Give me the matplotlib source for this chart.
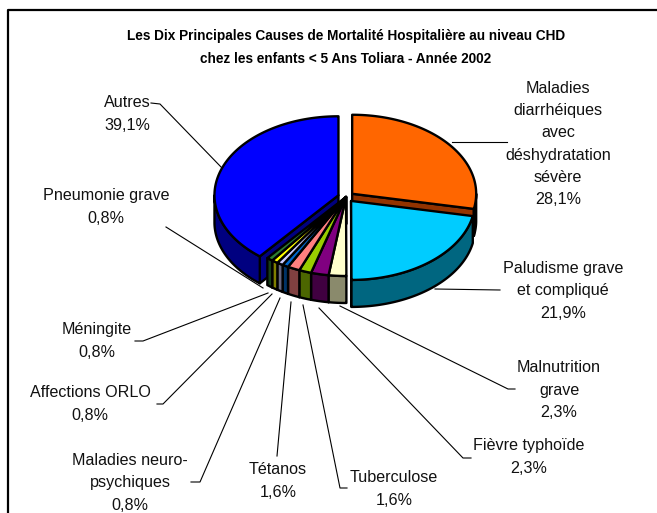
import numpy as np
import matplotlib
matplotlib.use("Agg")
import matplotlib.pyplot as plt
from matplotlib.patches import Polygon
from matplotlib.lines import Line2D

# ---- data -------------------------------------------------------------
causes = [
    "Maladies\ndiarrhéiques\navec\ndéshydratation\nsévère",
    "Paludisme grave\net compliqué",
    "Malnutrition\ngrave",
    "Fièvre typhoïde",
    "Tuberculose",
    "Tétanos",
    "Maladies neuro-\npsychiques",
    "Affections ORLO",
    "Méningite",
    "Pneumonie grave",
    "Autres",
]
percent = [28.1, 21.9, 2.3, 2.3, 1.6, 1.6, 0.8, 0.8, 0.8, 0.8, 39.1]
top_colors = ["#FF6600", "#00CCFF", "#FFFFCC", "#800080", "#99CC00", "#FF8080",
              "#0066CC", "#CCCCFF", "#FFFF00", "#2E7D32", "#0000FF"]
side_colors = ["#933300", "#006680", "#8A8A6C", "#400040", "#4C6600", "#804040",
               "#003366", "#66667F", "#808000", "#173F19", "#000080"]
exploded = [True, True, False, False, False, False, False, False, False, False, True]

title = ("Les Dix Principales Causes de Mortalité Hospitalière au niveau CHD\n"
         "chez les enfants < 5 Ans Toliara - Année 2002")

# ---- layout (pixel space) ---------------------------------------------
W, H = 657, 513
cx, cy = 346.0, 197.0       # centre of the top face
a, b = 124.0, 79.0          # ellipse semi-axes
depth = 27.0                # thickness of the disc
explode_px = 8.0

label_pos = [(558, 144), (563, 291), (559, 390), (529, 457), (394, 489),
             (278, 481), (130, 483), (90, 404), (97, 341), (106, 207), (127, 114)]
leaders = [
    [(452, 142), (507, 142)],
    [(435, 289), (500, 290)],
    [(340, 306), (508, 389), (515, 389)],
    [(319, 308), (463, 458), (471, 458)],
    [(303, 305), (340, 488), (347, 488)],
    [(291, 302), (277, 456)],
    [(280, 298), (200, 482), (191, 482)],
    [(272, 294), (163, 404), (157, 404)],
    [(268, 293), (143, 341), (135, 341)],
    [(263, 288), (166, 227)],
    [(222, 168), (160, 104), (151, 103)],
]

fig = plt.figure(figsize=(W / 100, H / 100), dpi=100)
ax = fig.add_axes([0, 0, 1, 1])
ax.set_xlim(0, W)
ax.set_ylim(H, 0)
ax.axis("off")

# chart frame
ax.add_line(Line2D([8, 8, W + 2], [H + 2, 10, 10], color="black", lw=1.6))

ax.text(346, 47.5, title, ha="center", va="center", fontsize=9.8,
        fontweight="bold", family=["Liberation Sans", "DejaVu Sans"],
        linespacing=1.78)

total = sum(percent)
spans = [360.0 * p / total for p in percent]
starts = 90.0 - np.concatenate([[0], np.cumsum(spans)[:-1]])
ends = starts - np.array(spans)


def offset(i):
    if not exploded[i]:
        return 0.0, 0.0
    m = np.radians((starts[i] + ends[i]) / 2)
    return explode_px * np.cos(m), -explode_px * (b / a) * np.sin(m)


def rim(th_deg, off, z=0.0):
    th = np.radians(th_deg)
    return cx + off[0] + a * np.cos(th), cy + off[1] - b * np.sin(th) + z


def arc(t0, t1, off, z=0.0, n=None):
    n = n or max(4, int(abs(t1 - t0) * 1.5))
    ts = np.linspace(t0, t1, n)
    return [rim(t, off, z) for t in ts]


LW = 1.7
radial, outer, tops = [], [], []
for i in range(len(percent)):
    off = offset(i)
    s, e = starts[i], ends[i]
    c0 = (cx + off[0], cy + off[1])
    c1 = (cx + off[0], cy + off[1] + depth)
    # radial walls facing the viewer
    for th, nrm in ((s, s + 90), (e, e - 90)):
        if np.sin(np.radians(nrm)) < -1e-6:
            quad = [c0, rim(th, off), rim(th, off, depth), c1]
            key = np.sin(np.radians(th))
            radial.append((key, quad, side_colors[i]))
    # curved outer wall on the front half
    lo, hi = max(e, -180.0), min(s, 0.0)
    if hi > lo:
        pts = arc(hi, lo, off) + arc(lo, hi, off, depth)
        outer.append((pts, side_colors[i]))
    tops.append(([c0] + arc(s, e, off), top_colors[i]))

for key, quad, col in sorted(radial, key=lambda r: -r[0]):
    ax.add_patch(Polygon(quad, closed=True, fc=col, ec="black", lw=LW,
                         joinstyle="round"))
for pts, col in outer:
    ax.add_patch(Polygon(pts, closed=True, fc=col, ec="black", lw=LW,
                         joinstyle="round"))
for pts, col in tops:
    ax.add_patch(Polygon(pts, closed=True, fc=col, ec="black", lw=LW,
                         joinstyle="round"))

# labels and leader lines
for i, (name, p) in enumerate(zip(causes, percent)):
    txt = f"{name}\n{p:.1f}%".replace(".", ",")
    x, y = label_pos[i]
    ax.text(x, y, txt, ha="center", va="center", fontsize=11.6,
            family=["Liberation Sans", "DejaVu Sans"], linespacing=1.6,
            color="#111111")
    xs, ys = zip(*leaders[i])
    ax.add_line(Line2D(xs, ys, color="black", lw=0.8))

fig.savefig("out.png", dpi=100)
